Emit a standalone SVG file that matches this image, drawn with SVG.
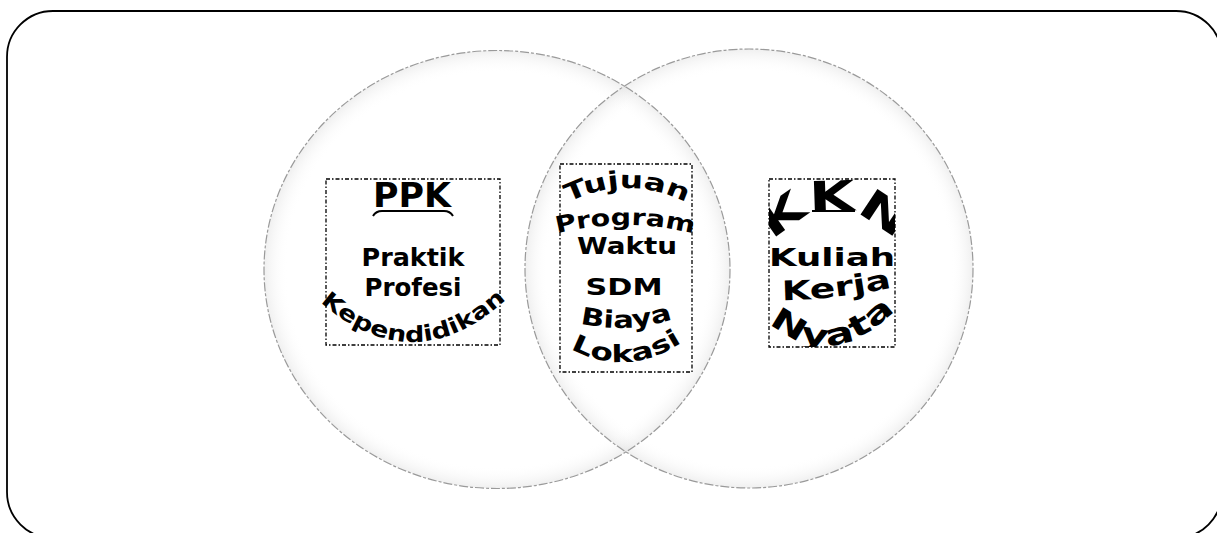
<svg xmlns="http://www.w3.org/2000/svg" width="1217" height="533" viewBox="0 0 1217 533">
<style>
.frame{fill:#fff;stroke:#000;stroke-width:1.8}
.ring{fill:none;stroke:#9a9a9a;stroke-width:1.2;stroke-dasharray:9 2 3 2}
.box{fill:#fff;stroke:#000;stroke-width:1.3;stroke-dasharray:4 2 1.5 2}
.t{font-family:"DejaVu Sans","Liberation Sans",sans-serif;font-weight:bold;fill:#000}
</style>
<defs>
<radialGradient id="glow" cx="0.5" cy="0.5" r="0.5">
<stop offset="0.9" stop-color="#fff" stop-opacity="0"/>
<stop offset="1" stop-color="#dcdcdc" stop-opacity="0.45"/>
</radialGradient>
<path id="pKep" d="M318,300 Q413,385 508,298"/>
<path id="pTuj" d="M563,205 Q627,171 691,205"/>
<path id="pPro" d="M555,234 Q625,216 695,234"/>
<path id="pBia" d="M578,323 Q626,335 676,318"/>
<path id="pLok" d="M566,346 Q625,381 686,340"/>
<path id="pKKN" d="M770,244 Q834,178 899,244"/>
<path id="pKer" d="M781,300 Q835,300 894,287"/>
<path id="pNya" d="M767,321 Q833,378 901,304"/>
<clipPath id="cKKN"><rect x="769" y="179" width="126" height="168"/></clipPath>
</defs>
<rect class="frame" x="7" y="11" width="1215" height="527" rx="46"/>
<g id="circles">
<ellipse cx="497" cy="269.5" rx="233" ry="219" fill="url(#glow)"/>
<ellipse cx="749" cy="268.5" rx="224" ry="219.5" fill="url(#glow)"/>
<ellipse class="ring" cx="497" cy="269.5" rx="233" ry="219"/>
<ellipse class="ring" cx="749" cy="268.5" rx="224" ry="219.5"/>
</g>
<g id="ppk">
<rect class="box" x="326" y="179" width="174" height="166"/>
<text class="t" x="412" y="207" font-size="34" text-anchor="middle" textLength="78" lengthAdjust="spacingAndGlyphs">PPK</text>
<path d="M373,216 Q376,211 382,211 L444,211 Q450,211 453,216" fill="none" stroke="#000" stroke-width="2"/>
<text class="t" x="413" y="266" font-size="24" text-anchor="middle" textLength="103" lengthAdjust="spacingAndGlyphs">Praktik</text>
<text class="t" x="413" y="296" font-size="24" text-anchor="middle" textLength="97" lengthAdjust="spacingAndGlyphs">Profesi</text>
<text class="t" font-size="22"><textPath href="#pKep" startOffset="3" textLength="208" lengthAdjust="spacingAndGlyphs">Kependidikan</textPath></text>
</g>
<g id="irisan">
<rect class="box" x="560" y="164" width="132" height="208"/>
<text class="t" font-size="24"><textPath href="#pTuj" startOffset="6" textLength="122" lengthAdjust="spacingAndGlyphs">Tujuan</textPath></text>
<text class="t" font-size="23"><textPath href="#pPro" startOffset="2" textLength="138" lengthAdjust="spacingAndGlyphs">Program</textPath></text>
<text class="t" x="627" y="254" font-size="23" text-anchor="middle" textLength="100" lengthAdjust="spacingAndGlyphs">Waktu</text>
<text class="t" x="624" y="295" font-size="23" text-anchor="middle" textLength="77" lengthAdjust="spacingAndGlyphs">SDM</text>
<text class="t" font-size="24"><textPath href="#pBia" startOffset="2" textLength="94" lengthAdjust="spacingAndGlyphs">Biaya</textPath></text>
<text class="t" font-size="24"><textPath href="#pLok" startOffset="5" textLength="118" lengthAdjust="spacingAndGlyphs">Lokasi</textPath></text>
</g>
<g id="kkn">
<rect class="box" x="769" y="179" width="126" height="168"/>
<g clip-path="url(#cKKN)">
<text class="t" font-size="42"><textPath href="#pKKN" startOffset="4" textLength="140" lengthAdjust="spacingAndGlyphs">KKN</textPath></text>
<line x1="812" y1="211" x2="855" y2="211" stroke="#000" stroke-width="2"/>
<text class="t" x="832" y="266" font-size="24" text-anchor="middle" textLength="126" lengthAdjust="spacingAndGlyphs">Kuliah</text>
<text class="t" font-size="27"><textPath href="#pKer" startOffset="1" textLength="111" lengthAdjust="spacingAndGlyphs">Kerja</textPath></text>
<text class="t" font-size="30"><textPath href="#pNya" startOffset="3" textLength="142" lengthAdjust="spacingAndGlyphs">Nyata</textPath></text>
</g>
</g>
</svg>
